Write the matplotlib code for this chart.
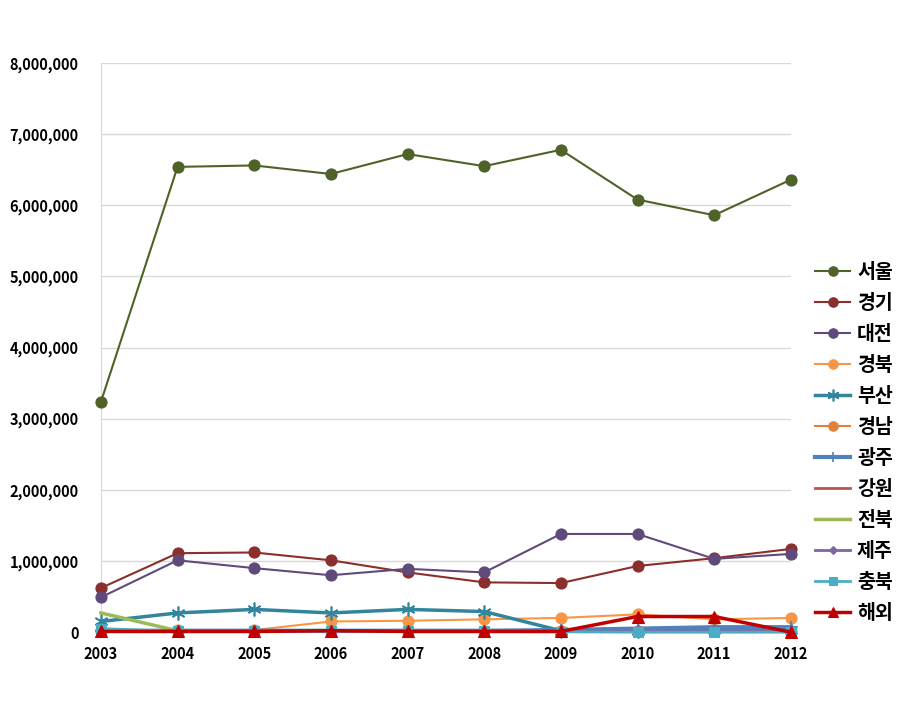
import numpy as np
import matplotlib.pyplot as plt
from matplotlib.ticker import FuncFormatter

plt.rcParams['font.family'] = ['Noto Sans CJK KR', 'DejaVu Sans']

years = ['2003', '2004', '2005', '2006', '2007', '2008', '2009', '2010', '2011', '2012']

seoul = [3235000, 6540000, 6560000, 6440000, 6720000, 6550000, 6780000, 6080000, 5860000, 6360000]
gyeonggi = [620000, 1110000, 1120000, 1010000, 840000, 700000, 690000, 930000, 1040000, 1170000]
daejeon = [490000, 1010000, 900000, 800000, 890000, 840000, 1380000, 1380000, 1030000, 1100000]
gyeongbuk = [30000, 30000, 30000, 150000, 160000, 180000, 200000, 250000, 180000, 200000]
busan = [150000, 270000, 320000, 270000, 320000, 290000, 20000, 20000, 30000, 30000]
gyeongnam = [20000, 20000, 20000, 20000, 20000, 20000, 20000, 20000, 20000, 20000]
gwangju = [20000, 20000, 20000, 20000, 20000, 20000, 30000, 50000, 70000, 70000]
gangwon = [15000, 15000, 15000, 15000, 15000, 15000, 15000, 15000, 15000, 15000]
jeonbuk = [270000, 20000, 20000, 20000, 20000, 20000, 20000, 20000, 20000, 20000]
jeju = [30000, 30000, 30000, 30000, 30000, 30000, 30000, 30000, 30000, 30000]
chungbuk = [50000, 10000, 10000, 10000, 10000, 10000, 5000, 0, 0, 0]
overseas = [10000, 10000, 10000, 20000, 10000, 10000, 10000, 220000, 220000, 0]

x = np.arange(len(years))

# name, data, color, marker, markersize, linewidth
series = [
    ('서울', seoul, '#4F6228', 'o', 8, 1.5),
    ('경기', gyeonggi, '#8B2F2D', 'o', 8, 1.5),
    ('대전', daejeon, '#604A7B', 'o', 8, 1.5),
    ('경북', gyeongbuk, '#F79646', 'o', 8, 1.5),
    ('부산', busan, '#31859C', (6, 2, 0), 10, 2.5),
    ('경남', gyeongnam, '#E0803A', 'o', 8, 1.5),
    ('광주', gwangju, '#4F81BD', '+', 9, 3),
    ('강원', gangwon, '#C0504D', None, 0, 2),
    ('전북', jeonbuk, '#9BBB59', None, 0, 2.5),
    ('제주', jeju, '#8064A2', 'D', 5, 2),
    ('충북', chungbuk, '#4BACC6', 's', 7, 2),
    ('해외', overseas, '#C00000', '^', 8, 2.5),
]

fig = plt.figure(figsize=(9.09, 7.2), dpi=100)
ax = fig.add_axes([0.111, 0.122, 0.759, 0.7905])

for name, vals, col, mk, ms, lw in series:
    ax.plot(x, vals, color=col, marker=mk, markersize=ms, linewidth=lw,
            markeredgecolor=col, markeredgewidth=1.2 if mk in ('+', (6, 2, 0)) else 0.8,
            label=name, clip_on=False, zorder=3)

ax.set_xlim(0, 9)
ax.set_ylim(0, 8000000)
ax.set_yticks(np.arange(0, 8000001, 1000000))
ax.yaxis.set_major_formatter(FuncFormatter(lambda v, p: f'{int(v):,}'))
ax.set_xticks(x)
ax.set_xticklabels(years)
for lab in ax.get_xticklabels() + ax.get_yticklabels():
    lab.set_fontweight('bold')
    lab.set_fontsize(10.5)

ax.grid(axis='y', color='#D9D9D9', linewidth=1)
ax.set_axisbelow(True)
for s in ['top', 'right']:
    ax.spines[s].set_visible(False)
ax.spines['left'].set_color('#D9D9D9')
ax.spines['bottom'].set_color('#A6A6A6')
ax.tick_params(axis='y', length=0, pad=16)
ax.tick_params(axis='x', length=0, pad=10)

leg = ax.legend(loc='upper left', bbox_to_anchor=(1.01, 0.68), frameon=False,
                prop={'weight': 'bold', 'size': 14}, handlelength=1.8,
                labelspacing=0.62, handletextpad=0.35, markerscale=0.85)

plt.savefig('out.png', dpi=100)
